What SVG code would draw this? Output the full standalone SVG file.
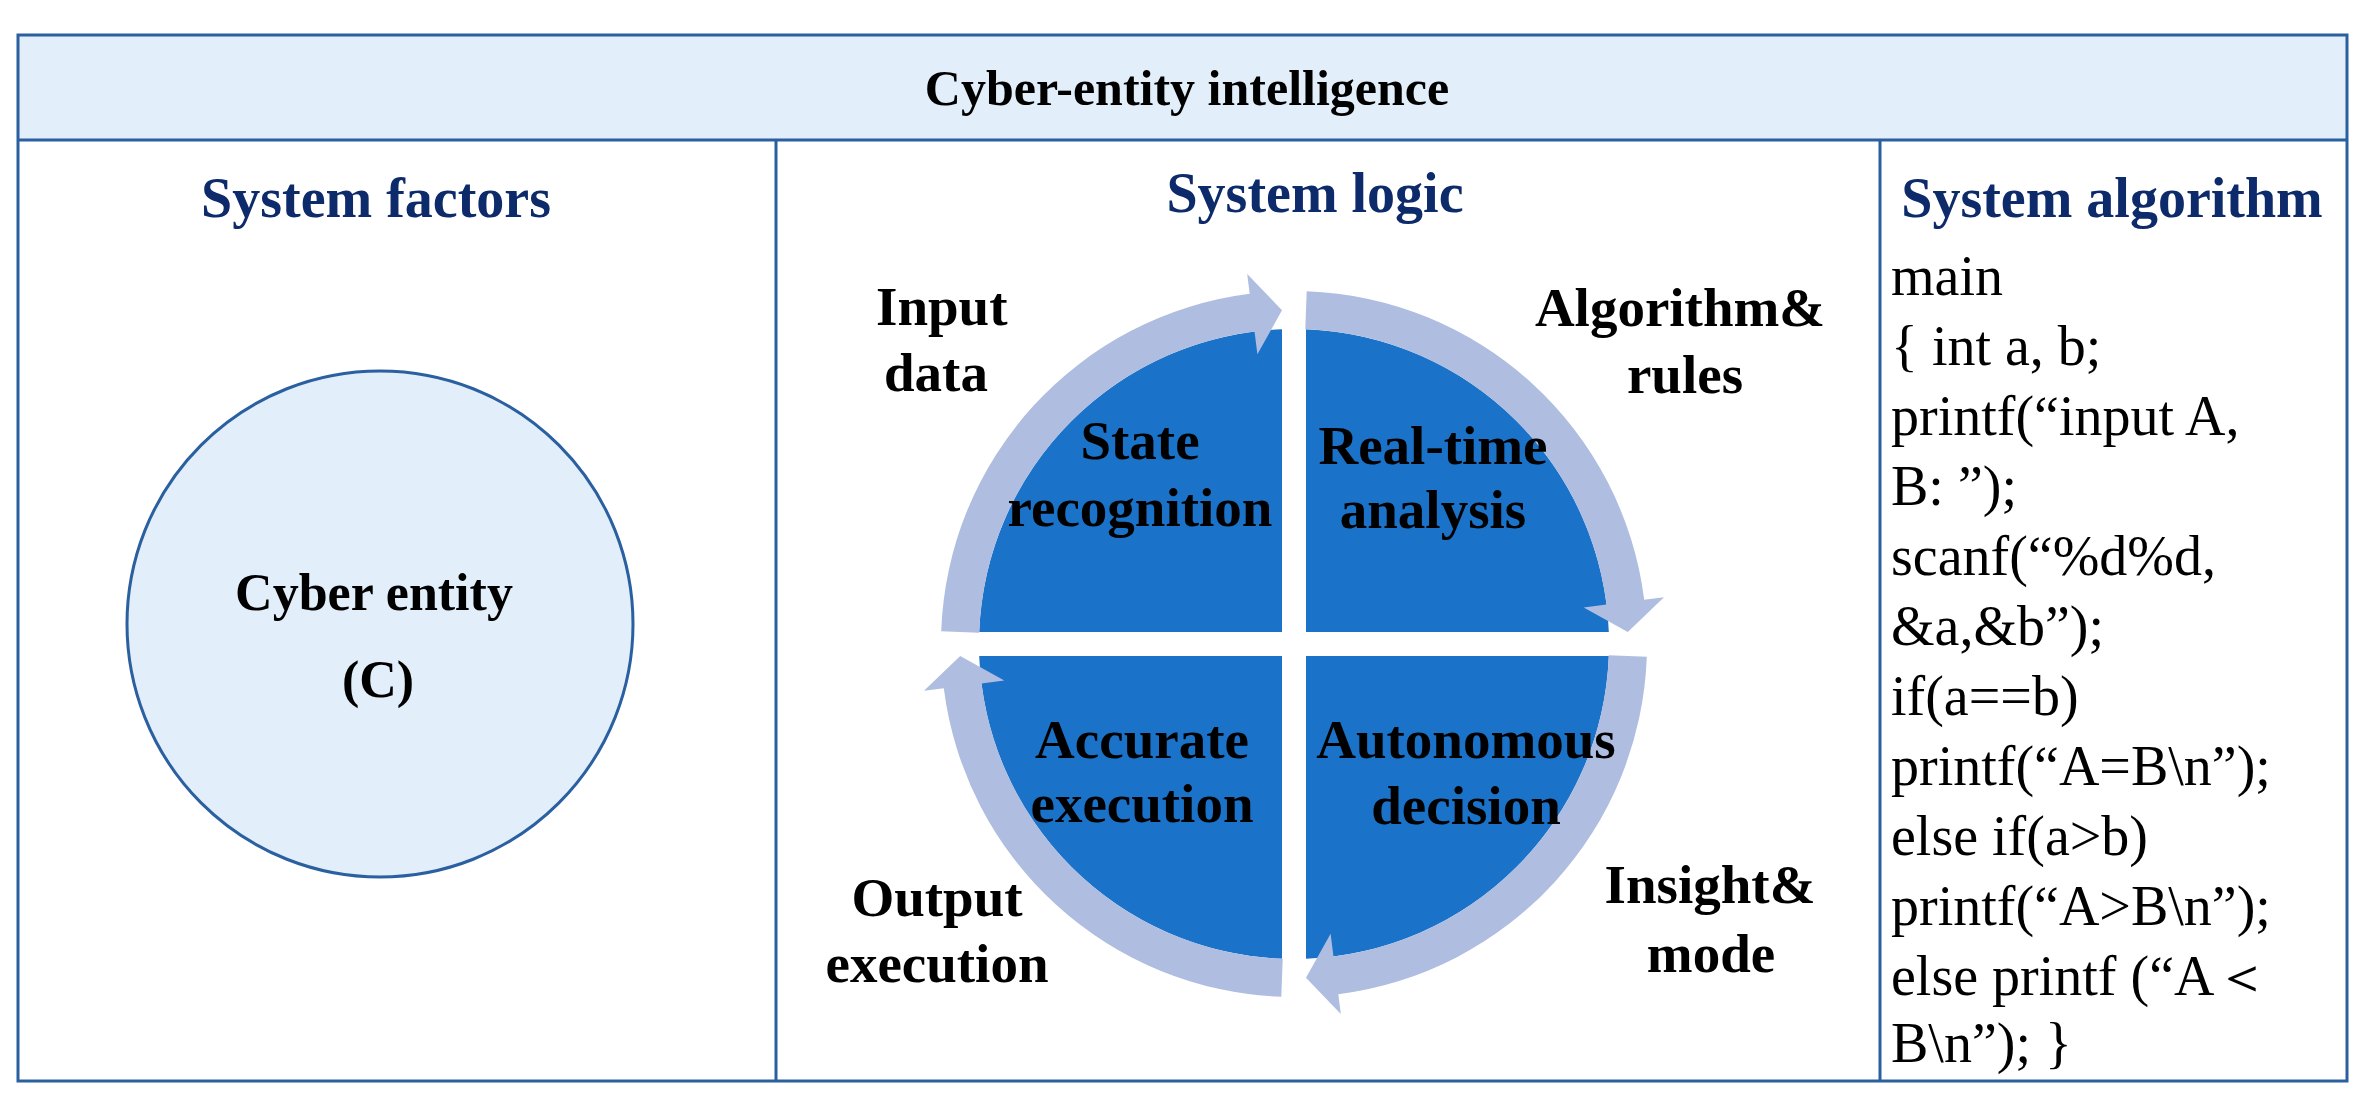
<svg xmlns="http://www.w3.org/2000/svg" width="2371" height="1110" viewBox="0 0 2371 1110">
<style>
.b{font-family:"Liberation Serif","Times New Roman",serif;font-weight:bold;fill:#000}
.h{font-family:"Liberation Serif","Times New Roman",serif;font-weight:bold;fill:#0d2a6b;font-size:56px}
.c{font-family:"Liberation Serif","Times New Roman",serif;fill:#000;font-size:56px}
.q{fill:#1a73c9}
.r{fill:#aebde0}
.ln{stroke:#2a5fa0;stroke-width:3;fill:none}
</style>
<defs>
<path id="seg" d="M941.2,631.3 A353,353 0 0 1 1249.7,293.8 L1247.2,274 L1282,310.2 L1257.4,354.3 L1254.5,331.5 A315,315 0 0 0 979.2,632.7 Z"/>
<path id="quad" d="M1282,632 L1282,329.2 A315,315 0 0 0 979.2,632 Z"/>
</defs>
<rect x="0" y="0" width="2371" height="1110" fill="#fff"/>
<g id="frame">
<rect x="18" y="35" width="2329" height="105" fill="#e2eef9"/>
<rect class="ln" x="18" y="35" width="2329" height="1046"/>
<line class="ln" x1="18" y1="140" x2="2347" y2="140"/>
<line class="ln" x1="776" y1="140" x2="776" y2="1081"/>
<line class="ln" x1="1880" y1="140" x2="1880" y2="1081"/>
<text class="b" x="1187" y="105" font-size="50" text-anchor="middle">Cyber-entity intelligence</text>
<text class="h" x="376" y="217" text-anchor="middle">System factors</text>
<text class="h" x="1315" y="212" text-anchor="middle">System logic</text>
<text class="h" x="2112" y="217" text-anchor="middle">System algorithm</text>
</g>
<g id="cyber-entity">
<circle cx="380" cy="624" r="253" fill="#e2eef9" stroke="#2a5fa0" stroke-width="3"/>
<text class="b" x="374" y="610" font-size="52" text-anchor="middle">Cyber entity</text>
<text class="b" x="378" y="697" font-size="52" text-anchor="middle">(C)</text>
</g>
<g id="quadrants">
<use href="#quad" class="q"/>
<use href="#quad" class="q" transform="rotate(90 1294 644)"/>
<use href="#quad" class="q" transform="rotate(180 1294 644)"/>
<use href="#quad" class="q" transform="rotate(270 1294 644)"/>
</g>
<g id="connectors">
<use href="#seg" class="r"/>
<use href="#seg" class="r" transform="rotate(90 1294 644)"/>
<use href="#seg" class="r" transform="rotate(180 1294 644)"/>
<use href="#seg" class="r" transform="rotate(270 1294 644)"/>
</g>
<g id="labels" class="b" font-size="55" text-anchor="middle">
<text x="1140" y="459">State</text><text x="1140" y="526">recognition</text>
<text x="1433" y="464">Real-time</text><text x="1433" y="528">analysis</text>
<text x="1142" y="758">Accurate</text><text x="1142" y="822">execution</text>
<text x="1466" y="758">Autonomous</text><text x="1466" y="824">decision</text>
<text x="876" y="325" text-anchor="start">Input</text><text x="884" y="391" text-anchor="start">data</text>
<text x="1680" y="326">Algorithm&amp;</text><text x="1685" y="393">rules</text>
<text x="1710" y="903">Insight&amp;</text><text x="1711" y="972">mode</text>
<text x="937" y="916">Output</text><text x="937" y="982">execution</text>
</g>
<g id="code" class="c" xml:space="preserve">
<text x="1891" y="295">main</text>
<text x="1891" y="365">{ int a, b;</text>
<text x="1891" y="435">  printf(“input A,</text>
<text x="1891" y="505">B: ”);</text>
<text x="1891" y="575">  scanf(“%d%d,</text>
<text x="1891" y="645">&amp;a,&amp;b”);</text>
<text x="1891" y="715">  if(a==b)</text>
<text x="1891" y="785">printf(“A=B\n”);</text>
<text x="1891" y="855">  else if(a&gt;b)</text>
<text x="1891" y="925">printf(“A&gt;B\n”);</text>
<text x="1891" y="995">  else printf (“A＜</text>
<text x="1891" y="1062">B\n”);   }</text>
</g>
</svg>
